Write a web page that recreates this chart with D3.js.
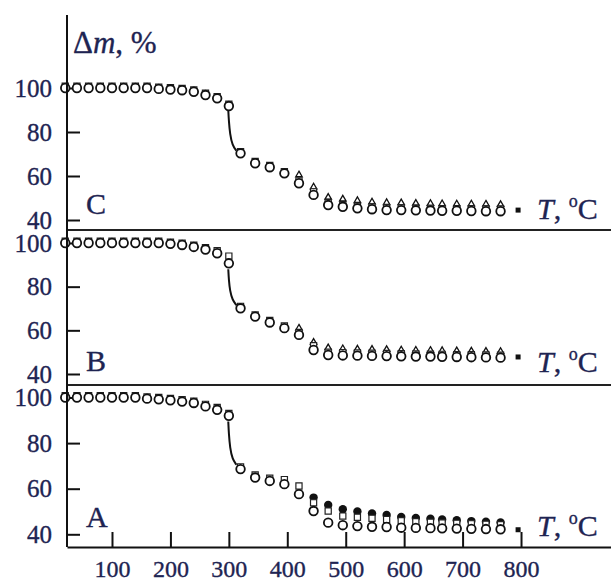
<!DOCTYPE html>
<html>
<head>
<meta charset="utf-8">
<script src="https://cdn.jsdelivr.net/npm/d3@7/dist/d3.min.js"></script>
<style>
  body { margin: 0; background: #fff; }
  text { font-family: "Liberation Serif", "Times New Roman", serif; }
</style>
</head>
<body>
<div id="chart"></div>
<script>
// Temperatures (°C) of the plotted points
const temps = [20, 40, 60, 80, 100, 120, 140, 160, 180, 200, 220, 240, 260, 280, 300,
    320, 345, 370, 395, 420, 445, 470, 495, 520, 545, 570, 595, 620, 645, 665, 690, 715, 740, 765];
const dropTemps = [299, 300, 302, 306, 313];
const triTemps = [420, 445, 470, 495, 520, 545, 570, 595, 620, 645, 665, 690, 715, 740, 765];
const filledTemps = [445, 470, 495, 520, 545, 570, 595, 620, 645, 665, 690, 715, 740, 765];
const endTemp = 795;

const xTicks = [100, 200, 300, 400, 500, 600, 700, 800];
const yTicks = [40, 60, 80, 100];

// Panel C
const circlesC = [100, 100, 100, 100, 100, 100, 100, 100, 99.6, 99.3, 99, 98.3, 96.8, 95.3, 91.8,
    70.3, 65.8, 64, 61.2, 56.7, 51.4, 46.8, 46, 45.3, 44.9, 44.5, 44.5, 44.4, 44.3, 44.2, 44.2, 44.1, 44, 44];
const squaresC = [100.8, 100.8, 100.8, 100.8, 100.8, 100.8, 100.8, 100.8, 100.4, 100.1, 99.8, 99.1, 97.6, 96.1, 92.6,
    71, 66.6, 64.8, 62, 57.8, 52.8, 48, 47, 46.3, 45.9, 45.5, 45.5, 45.4, 45.3, 45.2, 45.2, 45.1, 45, 45];
const trianglesC = [60.5, 55, 50.3, 49.5, 48.8, 48.2, 47.9, 47.8, 47.6, 47.5, 47.4, 47.3, 47.3, 47.2, 47];
const dropC = [90, 85, 79, 74, 71.5];
const endC = 44.5;

// Panel B
const circlesB = [100, 100, 100, 100, 100, 100, 100, 100, 100, 99.6, 99.1, 98.2, 97, 95.3, 90.7,
    70.1, 66.3, 63.6, 61, 57.9, 51, 48.7, 48.5, 48.4, 48.3, 48.2, 48.1, 48, 48, 47.9, 47.8, 47.7, 47.6, 47.5];
const squaresB = [100.8, 100.8, 100.8, 100.8, 100.8, 100.8, 100.8, 100.8, 100.8, 100.4, 99.9, 99, 97.8, 96.5, 94,
    71, 67, 64.5, 62, 59, 53, 50, 49.8, 49.6, 49.5, 49.4, 49.3, 49.2, 49.1, 49, 48.9, 48.8, 48.7, 48.6];
const trianglesB = [61, 54.5, 52, 51.6, 51.4, 51.3, 51.2, 51, 50.9, 50.8, 50.7, 50.6, 50.5, 50.4, 50.3];
const dropB = [88, 83, 78, 74, 71.5];
const endB = 47.8;

// Panel A
const circlesA = [100, 100, 100, 100, 100, 100, 100, 99.5, 99.2, 98.8, 98.2, 97.6, 96.1, 94.6, 92,
    68.6, 64.9, 63.4, 62, 57.6, 50.2, 45.1, 44, 43.6, 43.3, 43.2, 42.9, 42.8, 42.7, 42.6, 42.5, 42.4, 42.3, 42.2];
const squaresA = [100.8, 100.8, 100.8, 100.8, 100.8, 100.8, 100.8, 100.3, 100, 99.6, 99, 98.4, 97, 95.6, 93,
    69.6, 66, 64.6, 64, 61.2, 53.8, 50.2, 48, 47.5, 47, 46.5, 46, 45.5, 45.3, 45, 44.8, 44.6, 44.4, 44.2];
const filledA = [56.1, 52.9, 51, 50, 49.1, 48.5, 47.6, 47.2, 46.8, 46.5, 46.2, 45.8, 45.5, 45.2];
const dropA = [89.5, 84, 78, 73, 70.5];
const endA = 42;

// Layout
const W = 611, H = 583;
const axisX = 67, axisBottom = 547, axisTop = 15, rightEdge = 611;
const textColor = '#1e2452';
const serif = '"Liberation Serif", "Times New Roman", serif';

const panels = [
    { name: 'C', circles: circlesC, squares: squaresC, triangles: trianglesC, filled: null, drop: dropC, end: endC,
      y100: 88, y40: 220, bottom: 230, labelY: 214, tY: 219 },
    { name: 'B', circles: circlesB, squares: squaresB, triangles: trianglesB, filled: null, drop: dropB, end: endB,
      y100: 243, y40: 374, bottom: 385, labelY: 371, tY: 372 },
    { name: 'A', circles: circlesA, squares: squaresA, triangles: null, filled: filledA, drop: dropA, end: endA,
      y100: 397.5, y40: 534.3, bottom: axisBottom, labelY: 527, tY: 536 }
];

const svg = d3.select('#chart').append('svg')
    .attr('width', W)
    .attr('height', H);

const xScale = d3.scaleLinear().domain([23, 954]).range([axisX, rightEdge]);

const styleText = sel => sel
    .attr('fill', textColor)
    .attr('stroke', textColor)
    .attr('stroke-width', 0.35)
    .style('font-family', serif);

const drawPanel = (p) => {
    const yScale = d3.scaleLinear().domain([40, 100]).range([p.y40, p.y100]);
    const g = svg.append('g').attr('class', 'panel-' + p.name);

    // y ticks (inward)
    const yAxis = d3.axisLeft(yScale)
        .tickValues(yTicks)
        .tickSizeInner(-13)
        .tickSizeOuter(0)
        .tickPadding(15);
    const ya = g.append('g')
        .attr('transform', `translate(${axisX},0)`)
        .call(yAxis);
    ya.select('.domain').remove();
    ya.selectAll('line').attr('stroke', '#111').attr('stroke-width', 2);
    ya.selectAll('text')
        .attr('font-size', 25)
        .call(styleText);

    // panel bottom separator
    if (p.name !== 'A') {
        g.append('line')
            .attr('x1', axisX).attr('x2', rightEdge)
            .attr('y1', p.bottom).attr('y2', p.bottom)
            .attr('stroke', '#222')
            .attr('stroke-width', 2);
    }

    // steep mass-loss step
    const dropLine = d3.line()
        .x((d, i) => xScale(dropTemps[i]))
        .y(d => yScale(d))
        .curve(d3.curveBasis);
    g.append('path')
        .attr('d', dropLine(p.drop))
        .attr('fill', 'none')
        .attr('stroke', '#111')
        .attr('stroke-width', 2);

    if (p.filled) {
        g.selectAll('.filled')
            .data(p.filled)
            .enter()
            .append('circle')
            .attr('class', 'filled')
            .attr('cx', (d, i) => xScale(filledTemps[i]))
            .attr('cy', d => yScale(d))
            .attr('r', 4.2)
            .attr('fill', '#111');
    }

    if (p.triangles) {
        const tri = d3.symbol().type(d3.symbolTriangle).size(18);
        g.selectAll('.tri')
            .data(p.triangles)
            .enter()
            .append('path')
            .attr('class', 'tri')
            .attr('d', tri)
            .attr('transform', (d, i) => `translate(${xScale(triTemps[i])},${yScale(d)})`)
            .attr('fill', '#fff')
            .attr('stroke', '#111')
            .attr('stroke-width', 1.3);
    }

    const sq = d3.symbol().type(d3.symbolSquare).size(38);
    g.selectAll('.sq')
        .data(p.squares)
        .enter()
        .append('path')
        .attr('class', 'sq')
        .attr('d', sq)
        .attr('transform', (d, i) => `translate(${xScale(temps[i])},${yScale(d)})`)
        .attr('fill', '#fff')
        .attr('stroke', '#222')
        .attr('stroke-width', 1.2);

    g.selectAll('.circ')
        .data(p.circles)
        .enter()
        .append('circle')
        .attr('class', 'circ')
        .attr('cx', (d, i) => xScale(temps[i]))
        .attr('cy', d => yScale(d))
        .attr('r', 4.3)
        .attr('fill', '#fff')
        .attr('stroke', '#111')
        .attr('stroke-width', 1.8);

    g.append('rect')
        .attr('x', xScale(endTemp) - 2.5)
        .attr('y', yScale(p.end) - 2.5)
        .attr('width', 5)
        .attr('height', 5)
        .attr('fill', '#111');

    // panel letter
    g.append('text')
        .attr('x', 86)
        .attr('y', p.labelY)
        .attr('font-size', 30)
        .call(styleText)
        .text(p.name);

    // T, °C label
    const t = g.append('text')
        .attr('x', 537)
        .attr('y', p.tY)
        .attr('font-size', 30)
        .call(styleText);
    t.append('tspan').attr('font-style', 'italic').text('T');
    t.append('tspan').text(', ');
    t.append('tspan').attr('font-size', 18).attr('dy', -12).text('o');
    t.append('tspan').attr('dy', 12).text('C');
};

panels.forEach(drawPanel);

// shared axes
svg.append('line')
    .attr('x1', axisX).attr('x2', axisX)
    .attr('y1', axisTop).attr('y2', axisBottom)
    .attr('stroke', '#111')
    .attr('stroke-width', 2);

const xAxis = d3.axisBottom(xScale)
    .tickValues(xTicks)
    .tickSizeInner(-15)
    .tickSizeOuter(0)
    .tickPadding(13);
const xa = svg.append('g')
    .attr('transform', `translate(0,${axisBottom})`)
    .call(xAxis);
xa.select('.domain').attr('stroke', '#111').attr('stroke-width', 2);
xa.selectAll('line').attr('stroke', '#111').attr('stroke-width', 2);
xa.selectAll('text')
    .attr('font-size', 24)
    .call(styleText);

// y label
const yl = svg.append('text')
    .attr('x', 73)
    .attr('y', 53)
    .attr('font-size', 31)
    .call(styleText);
yl.append('tspan').text('Δ');
yl.append('tspan').attr('font-style', 'italic').text('m');
yl.append('tspan').text(', %');
</script>
</body>
</html>
